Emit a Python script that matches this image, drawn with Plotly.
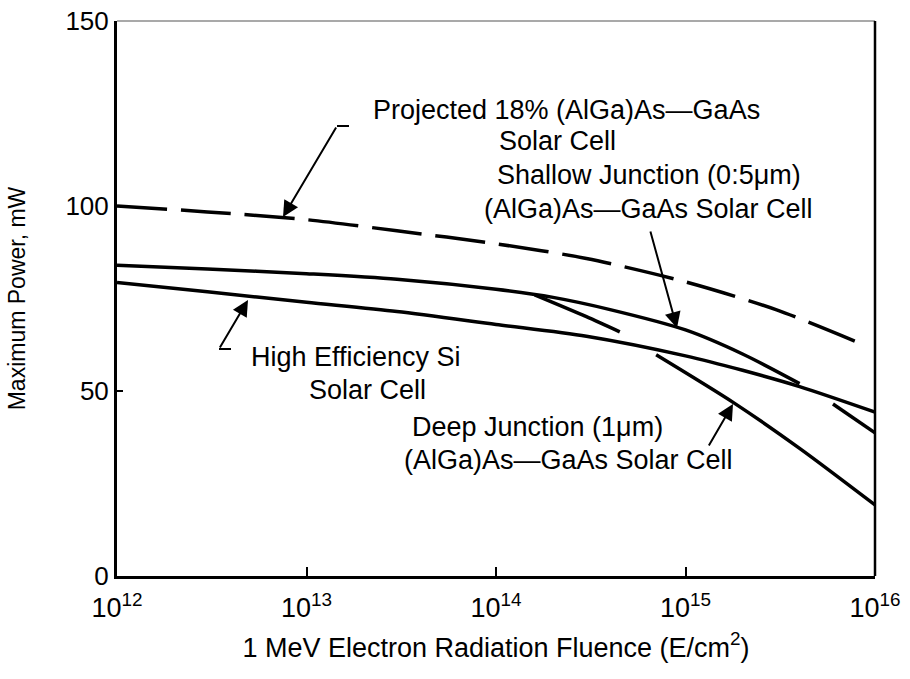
import plotly.graph_objects as go

# ---- data ----
proj_fluence = [1e12, 3e12, 1e13, 3e13, 1e14, 3e14, 1e15, 3e15, 8e15]
proj_power = [100, 98.4, 96.3, 93.3, 89.8, 85.8, 79.5, 72.0, 63.3]

shallow_fluence = [1e12, 3e12, 1e13, 3e13, 1e14, 2e14, 4e14, 1e15, 2e15, 4e15, None, 6e15, 1e16]
shallow_power = [84.0, 83.0, 81.7, 80.2, 77.5, 75.3, 72.0, 66.5, 60.0, 52.0, None, 46.5, 38.7]

deep_fluence = [1.6e14, 3e14, 4.5e14, None, 7e14, 1.8e15, 4e15, 1e16]
deep_power = [76.0, 70.1, 66.0, None, 59.8, 46.8, 34.5, 19.2]

si_fluence = [1e12, 3e12, 1e13, 3e13, 1e14, 3e14, 1e15, 2e15, 4e15, 1e16]
si_power = [79.3, 76.8, 74.0, 71.5, 68.0, 64.8, 59.5, 55.6, 51.2, 44.3]

x_tickvals = [1e12, 1e13, 1e14, 1e15, 1e16]
x_ticktext = ["10<sup>12</sup>", "10<sup>13</sup>", "10<sup>14</sup>", "10<sup>15</sup>", "10<sup>16</sup>"]
y_tickvals = [0, 50, 100, 150]

FONT = "Liberation Sans, Arial, sans-serif"
W, H = 910, 679
L, R, T, B = 117, 875, 21, 576   # plot area in window pixels


def xp(px):
    return (px - L) / (R - L)


def yp(py):
    return (B - py) / (B - T)


fig = go.Figure()
line_kw = dict(color="black", width=3.5, shape="spline", smoothing=0.8)
fig.add_trace(go.Scatter(x=proj_fluence, y=proj_power, mode="lines",
                         line=dict(color="black", width=3.5, dash="50px,14px", shape="spline", smoothing=0.8),
                         hoverinfo="skip"))
fig.add_trace(go.Scatter(x=shallow_fluence, y=shallow_power, mode="lines", line=line_kw,
                         connectgaps=False, hoverinfo="skip"))
fig.add_trace(go.Scatter(x=si_fluence, y=si_power, mode="lines", line=line_kw, hoverinfo="skip"))
fig.add_trace(go.Scatter(x=deep_fluence, y=deep_power, mode="lines", line=line_kw,
                         connectgaps=False, hoverinfo="skip"))

LBL = 27
labels = [
    # text, x, y, anchor
    ("Projected 18% (AlGa)As\u2014GaAs", 371, 110, "left"),
    ("Solar Cell", 497, 141, "left"),
    ("Shallow Junction (0:5\u03bcm)", 803, 175, "right"),
    ("(AlGa)As\u2014GaAs Solar Cell", 815, 209, "right"),
    ("High Efficiency Si", 249, 357, "left"),
    ("Solar Cell", 307, 390, "left"),
    ("Deep Junction (1\u03bcm)", 665, 427, "right"),
    ("(AlGa)As\u2014GaAs Solar Cell", 735, 460, "right"),
]
for t, x0, y0, anc in labels:
    fig.add_annotation(text=t, x=xp(x0), y=yp(y0), xref="paper", yref="paper", showarrow=False,
                       xanchor=anc, yanchor="middle",
                       font=dict(family=FONT, size=LBL, color="black"))

arrows = [
    ((283, 217), (337, 126)),
    ((677, 328), (650, 230)),
    ((248, 300), (219, 349)),
    ((733, 404), (708, 447)),
]
for (tx, ty), (sx, sy) in arrows:
    fig.add_annotation(x=xp(tx), y=yp(ty), xref="paper", yref="paper", text="",
                       showarrow=True, arrowhead=2, arrowsize=1.6, arrowwidth=2,
                       arrowcolor="black", ax=sx - tx, ay=sy - ty, standoff=0)

shapes = [
    # hooks on the leader lines
    dict(type="line", xref="paper", yref="paper", x0=xp(337), y0=yp(126), x1=xp(349), y1=yp(126),
         line=dict(color="black", width=2)),
    dict(type="line", xref="paper", yref="paper", x0=xp(219), y0=yp(349), x1=xp(231), y1=yp(349),
         line=dict(color="black", width=2)),
    # top (faint) and right frame
    dict(type="line", xref="paper", yref="paper", x0=0, y0=1, x1=1, y1=1,
         line=dict(color="#555555", width=1.2)),
    dict(type="line", xref="paper", yref="paper", x0=1, y0=0, x1=1, y1=1,
         line=dict(color="black", width=2.5)),
]

fig.update_layout(
    width=W, height=H,
    margin=dict(l=L, r=W - R, t=T, b=H - B),
    paper_bgcolor="white", plot_bgcolor="white",
    showlegend=False,
    hovermode=False,
    font=dict(family=FONT, size=24, color="black"),
    shapes=shapes,
    xaxis=dict(type="log", range=[12, 16], tickvals=x_tickvals, ticktext=x_ticktext,
               ticks="inside", ticklen=9, tickwidth=1.5, tickcolor="black",
               showline=True, linecolor="black", linewidth=2.5, showgrid=False, zeroline=False,
               tickfont=dict(family=FONT, size=27), ticklabelstandoff=6, automargin=False,
               ticklabeloverflow="allow",
               title=dict(text="1 MeV Electron Radiation Fluence (E/cm<sup>2</sup>)",
                          font=dict(family=FONT, size=27), standoff=16)),
    yaxis=dict(range=[0, 150], tickvals=y_tickvals,
               ticks="inside", ticklen=6, tickwidth=1.5, tickcolor="black",
               showline=True, linecolor="black", linewidth=3, showgrid=False, zeroline=False,
               tickfont=dict(family=FONT, size=26), automargin=False,
               ticklabeloverflow="allow",
               title=dict(text="Maximum Power, mW", font=dict(family=FONT, size=23), standoff=34)),
)

fig.write_html("out.html", config={"displayModeBar": False},
               post_script="document.body.style.margin='0px';document.body.style.overflow='hidden';")
